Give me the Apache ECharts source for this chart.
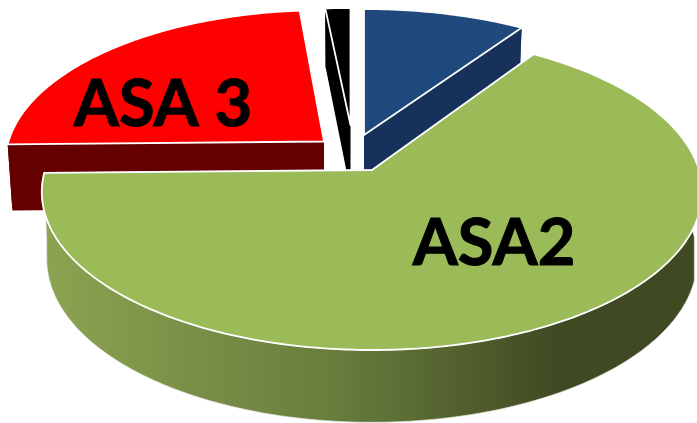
<!DOCTYPE html>
<html>
<head>
<meta charset="utf-8">
<style>html,body{margin:0;padding:0;background:#fff}#c{width:697px;height:423px}</style>
<script src="https://cdn.jsdelivr.net/npm/echarts@6/dist/echarts.min.js"></script>
</head>
<body>
<div id="c"></div>
<script>
// Data: share of each slice, clockwise from 12 o'clock
var categories = ['ASA 1', 'ASA2', 'ASA 3', 'ASA 4'];
var values = [9.3, 65.4, 23.9, 1.4];
var labels = ['', 'ASA2', 'ASA 3', ''];
var topColors = ['#1f497d', '#9bbb59', '#ff0000', '#000000'];
var wallColors = ['#17325a',
  {type:'linear',x:0,y:0,x2:1,y2:0,colorStops:[{offset:0,color:'#8ca351'},{offset:0.45,color:'#687c3c'},{offset:0.78,color:'#404a22'},{offset:1,color:'#404a22'}]},
  '#640000', '#000000'];
// Layout: exploded apex position and scale of each slice, paint order
var apexX = [364, 372, 324, 350.5];
var apexY = [135, 170, 141.5, 125];
var scalesX = [0.975, 1, 0.965, 1];
var scalesY = [0.926, 1, 0.965, 0.86];
var paintOrder = [1, 3, 0, 2];
var labelX = [0, 494, 163, 0];
var labelY = [0, 244, 105, 0];
var wallStrokes = [null, '#e6e6e6', null, null];

var RX = 327, RY = 155, K = 0.139, STEP = 1;
var total = values.reduce(function (a, b) { return a + b; }, 0);

function pt(i, theta, bottom) {
  var u = Math.cos(theta), v = -Math.sin(theta);
  var f = bottom ? 0.985 : 1;
  var w = 1 - K * v;
  return [apexX[i] + f * scalesX[i] * RX * u / w,
          apexY[i] + f * scalesY[i] * RY * v / w + (bottom ? 66 + 9 * v : 0)];
}
function renderItem(params, api) {
  var i = params.dataIndex, acc = 0;
  for (var j = 0; j < i; j++) acc += values[j];
  var a0 = Math.PI / 2 - acc / total * 2 * Math.PI;
  var a1 = a0 - values[i] / total * 2 * Math.PI;
  var n = Math.max(2, Math.ceil((a0 - a1) * 180 / Math.PI / STEP));
  var top = [], bot = [], minX = Infinity;
  for (var q = 0; q <= n; q++) {
    var t = a0 + (a1 - a0) * q / n;
    top.push(pt(i, t, false));
    var b = pt(i, t, true);
    // keep the side silhouette vertical above the widest point of the front rim
    if (Math.sin(t) < 0) { minX = Math.min(minX, b[0]); b[0] = minX; }
    bot.push(b);
  }
  var A = [apexX[i], apexY[i]];
  var Ab = [apexX[i], apexY[i] + 66];
  var z = paintOrder[i] * 10;
  var wallStyle = {fill: wallColors[i], stroke: wallStrokes[i], lineWidth: wallStrokes[i] ? 0.7 : 0, lineJoin: 'round'};
  function poly(points, style, zz) {
    return {type: 'polygon', shape: {points: points}, style: style, z2: zz};
  }
  var kids = [
    poly([A, top[0], bot[0], Ab], wallStyle, z),
    poly([A, top[n], bot[n], Ab], wallStyle, z + 1),
    poly(top.concat(bot.slice().reverse()), wallStyle, z + 2),
    poly([A].concat(top), {fill: topColors[i], stroke: '#ffffff', lineWidth: 1.8, lineJoin: 'round'}, z + 3)
  ];
  if (labels[i]) {
    kids.push({type: 'text', z2: 100, style: {
      text: labels[i], x: labelX[i], y: labelY[i], align: 'center', verticalAlign: 'middle',
      font: 'bold 65px Lato', fill: '#000000', stroke: '#000000', lineWidth: 1}});
  }
  return {type: 'group', children: kids};
}
var chart = echarts.init(document.getElementById('c'), null, {renderer: 'canvas'});
chart.setOption({
  animation: false,
  backgroundColor: '#ffffff',
  series: [{
    type: 'custom',
    coordinateSystem: 'none',
    renderItem: renderItem,
    data: categories.map(function (c, i) { return {name: c, value: values[i]}; })
  }]
});
</script>
</body>
</html>
